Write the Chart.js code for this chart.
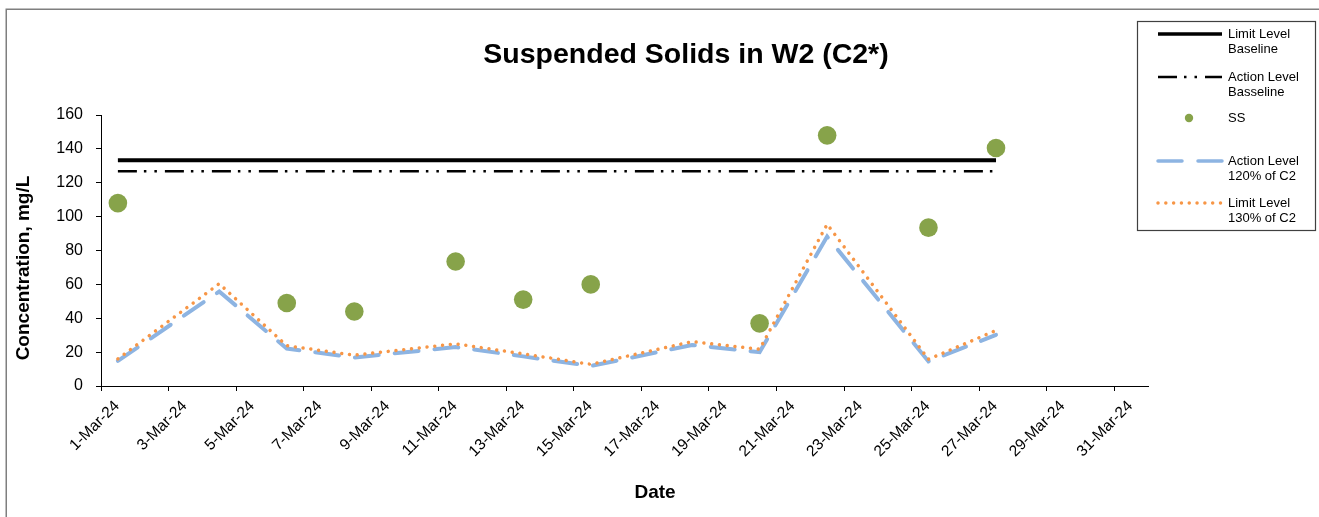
<!DOCTYPE html>
<html>
<head>
<meta charset="utf-8">
<script src="https://cdn.jsdelivr.net/npm/chart.js@4.4.1/dist/chart.umd.min.js"></script>
<style>
  html, body { margin: 0; padding: 0; background: #ffffff; }
  canvas { display: block; }
</style>
</head>
<body>
<canvas id="chart" width="1319" height="517"></canvas>
<script>
const FONT = '"Liberation Sans", Arial, Helvetica, sans-serif';

// Sampling days (March 2024)
const c2Days = [1, 4, 6, 8, 11, 13, 15, 18, 20, 22, 25, 27];
const ssDays = [1, 6, 8, 11, 13, 15, 20, 22, 25, 27];

// Suspended solids at W2, mg/L
const ssValues = [108, 49, 44, 73.5, 51, 60, 37, 148, 93.5, 140.5];

// Levels derived from control station C2, mg/L
const actionLevel120 = [14.8, 55.8, 22.1, 16.8, 23, 17.5, 11.8, 24.2, 20, 88.2, 14.5, 30.2];
const limitLevel130 = [16, 60.4, 23.8, 18.2, 24.9, 19, 12.8, 26.2, 21.7, 95.5, 15.8, 32.8];

// Baseline levels, mg/L
const limitBaseline = 133.3;
const actionBaseline = 126.8;

// Axis ticks
const xTickDays = [1, 3, 5, 7, 9, 11, 13, 15, 17, 19, 21, 23, 25, 27, 29, 31];
const xTickLabels = xTickDays.map(d => d + '-Mar-24');
const yTickValues = [0, 20, 40, 60, 80, 100, 120, 140, 160];

// Each sample sits in the middle of its day on the date axis
const noon = d => d + 0.5;
const pairs = (days, vals) => days.map((d, i) => ({ x: noon(d), y: vals[i] }));

const datasets = [
  {
    label: 'Limit Level\nBaseline',
    data: c2Days.map(d => ({ x: noon(d), y: limitBaseline })),
    borderColor: '#000000',
    borderWidth: 4,
    pointRadius: 0,
    order: 3
  },
  {
    label: 'Action Level\nBasseline',
    data: c2Days.map(d => ({ x: noon(d), y: actionBaseline })),
    borderColor: '#000000',
    borderWidth: 2.5,
    borderDash: [19, 7, 2.5, 8, 2.5, 8],
    pointRadius: 0,
    order: 4
  },
  {
    label: 'SS',
    data: pairs(ssDays, ssValues),
    showLine: false,
    pointRadius: 9.3,
    pointBackgroundColor: '#87A34A',
    pointBorderColor: '#87A34A',
    pointBorderWidth: 0,
    order: 0
  },
  {
    label: 'Action Level\n120% of C2',
    data: pairs(c2Days, actionLevel120),
    borderColor: '#8DB4E2',
    borderWidth: 4,
    borderDash: [24, 16],
    borderCapStyle: 'round',
    pointRadius: 0,
    order: 2
  },
  {
    label: 'Limit Level\n130% of C2',
    data: pairs(c2Days, limitLevel130),
    borderColor: '#F79646',
    borderWidth: 3.5,
    borderDash: [0.01, 7.8],
    borderCapStyle: 'round',
    pointRadius: 0,
    order: 1
  }
];

// Titles, frame and the boxed legend
const decorations = {
  id: 'decorations',
  afterDraw(chart) {
    const ctx = chart.ctx;
    ctx.save();

    // outer frame
    ctx.strokeStyle = '#7F7F7F';
    ctx.lineWidth = 1.5;
    ctx.strokeRect(6.25, 9.25, 1400, 600);

    // chart title
    ctx.fillStyle = '#000000';
    ctx.font = 'bold 28.5px ' + FONT;
    ctx.textAlign = 'center';
    ctx.textBaseline = 'alphabetic';
    ctx.fillText('Suspended Solids in W2 (C2*)', 686, 63);

    // axis titles
    ctx.font = 'bold 19px ' + FONT;
    ctx.textBaseline = 'middle';
    ctx.fillText('Date', 655, 493);
    ctx.save();
    ctx.translate(24, 268);
    ctx.rotate(-Math.PI / 2);
    ctx.fillText('Concentration, mg/L', 0, 0);
    ctx.restore();

    // legend box
    const box = { x: 1137.5, y: 21.5, w: 178, h: 209 };
    ctx.strokeStyle = '#404040';
    ctx.lineWidth = 1.2;
    ctx.strokeRect(box.x, box.y, box.w, box.h);

    const rowY = [34, 77, 118, 161, 203];
    const x0 = 1158, x1 = 1222, textX = 1228;
    ctx.font = '13px ' + FONT;
    ctx.textAlign = 'left';
    ctx.textBaseline = 'middle';

    chart.data.datasets.forEach((ds, i) => {
      const y = rowY[i];
      ctx.save();
      if (ds.showLine === false) {
        ctx.fillStyle = ds.pointBackgroundColor;
        ctx.beginPath();
        ctx.arc((x0 + x1) / 2 - 1, y, 4.2, 0, Math.PI * 2);
        ctx.fill();
      } else {
        ctx.strokeStyle = ds.borderColor;
        ctx.lineWidth = Math.min(ds.borderWidth, 3.5);
        ctx.lineCap = ds.borderCapStyle || 'butt';
        ctx.setLineDash(ds.borderDash || []);
        ctx.beginPath();
        ctx.moveTo(x0, y);
        ctx.lineTo(x1, y);
        ctx.stroke();
      }
      ctx.restore();
      ctx.fillStyle = '#000000';
      ds.label.split('\n').forEach((line, k) => {
        ctx.fillText(line, textX, y + k * 15);
      });
    });

    ctx.restore();
  }
};

new Chart(document.getElementById('chart'), {
  type: 'line',
  data: { datasets },
  options: {
    responsive: false,
    animation: false,
    events: [],
    layout: { padding: { left: 0, top: 115, right: 171, bottom: 0 } },
    plugins: {
      legend: { display: false },
      title: { display: false },
      tooltip: { enabled: false }
    },
    scales: {
      x: {
        type: 'linear',
        min: 1,
        max: 32,
        afterBuildTicks: scale => {
          scale.ticks = xTickDays.map(v => ({ value: v }));
        },
        afterFit: scale => { scale.height = 131; },
        ticks: {
          autoSkip: false,
          minRotation: 45,
          maxRotation: 45,
          labelOffset: 16,
          padding: 6,
          color: '#000000',
          font: { family: FONT, size: 15.5 },
          callback: (value) => xTickLabels[xTickDays.indexOf(value)]
        },
        grid: { drawOnChartArea: false, drawTicks: true, tickLength: 5, color: '#000000' },
        border: { color: '#000000', width: 1 }
      },
      y: {
        min: 0,
        max: 160,
        afterBuildTicks: scale => {
          scale.ticks = yTickValues.map(v => ({ value: v }));
        },
        afterFit: scale => { scale.width = 101; },
        ticks: {
          padding: 13,
          color: '#000000',
          font: { family: FONT, size: 16 }
        },
        grid: { drawOnChartArea: false, drawTicks: true, tickLength: 5, color: '#000000' },
        border: { color: '#000000', width: 1 }
      }
    }
  },
  plugins: [decorations]
});
</script>
</body>
</html>
